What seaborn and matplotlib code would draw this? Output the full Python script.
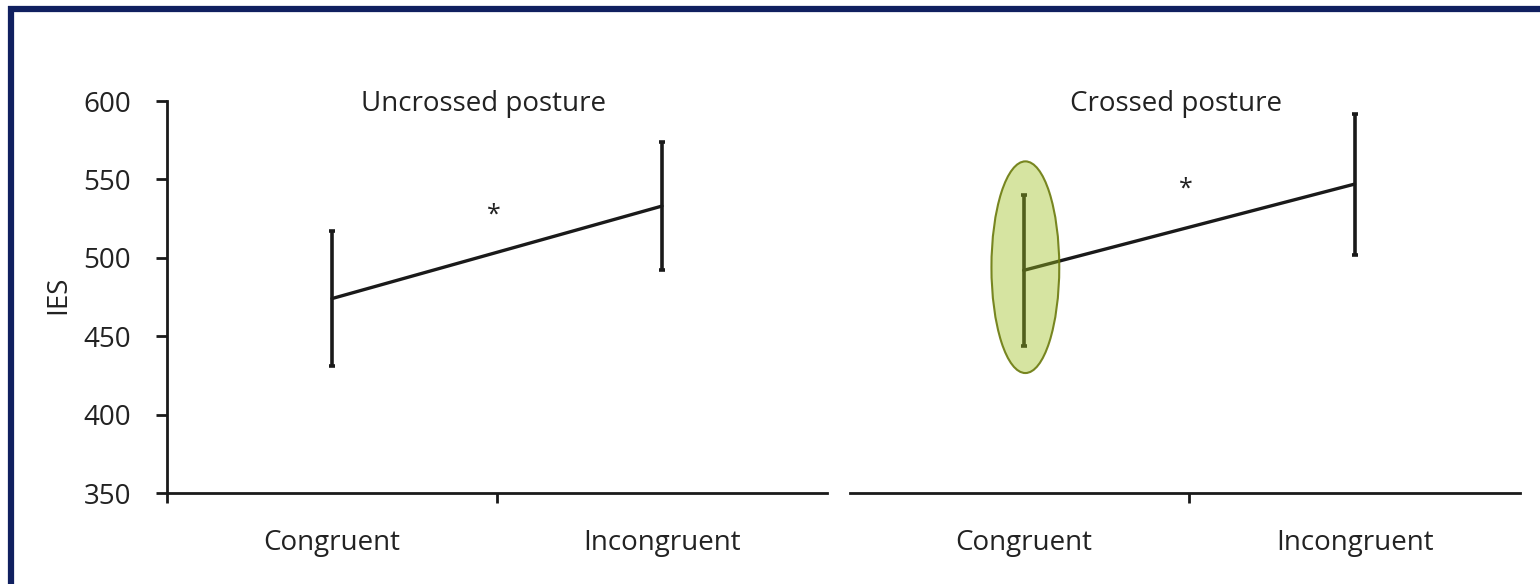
import numpy as np
import pandas as pd
import matplotlib
matplotlib.use("Agg")
import matplotlib.pyplot as plt
from matplotlib.patches import Ellipse
from matplotlib.lines import Line2D
import seaborn as sns

conditions = ["Congruent", "Incongruent"]
panel_titles = ["Uncrossed posture", "Crossed posture"]
uncrossed_mean = [474, 533]
uncrossed_err = [43, 41]
crossed_mean = [492, 547]
crossed_err = [48, 45]
y_ticks = [350, 400, 450, 500, 550, 600]

sns.set_theme(style="white")
plt.rcParams["font.family"] = ["Open Sans", "DejaVu Sans"]

INK = "#1a1a1a"
FS = 20

fig = plt.figure(figsize=(15.4, 5.84), dpi=100)
ax_l = fig.add_axes([167 / 1540, 91 / 584, 660 / 1540, 392 / 584])
ax_r = fig.add_axes([850 / 1540, 91 / 584, 670 / 1540, 392 / 584])

panels = [(ax_l, uncrossed_mean, uncrossed_err, panel_titles[0], (-0.5, 1.5)),
          (ax_r, crossed_mean, crossed_err, panel_titles[1], (-0.525, 1.5))]

for ax, means, errs, title, xlim in panels:
    df = pd.DataFrame({"condition": conditions, "IES": means})
    sns.pointplot(data=df, x="condition", y="IES", color=INK, markers="",
                  linewidth=2.4, errorbar=None, ax=ax)
    ax.errorbar([0, 1], means, yerr=errs, fmt="none", ecolor=INK,
                elinewidth=2.6, capsize=2.5, capthick=2.6, zorder=3)
    ax.set_xlim(*xlim)
    ax.set_ylim(350, 600)
    ax.set_xlabel("")
    ax.set_ylabel("")
    ax.set_xticks([0, 1])
    ax.set_xticklabels(conditions, fontsize=FS, color="#222222")
    ax.tick_params(axis="x", which="major", length=0, pad=26)
    ax.text(0.46, 598, title, ha="center", va="center", fontsize=FS,
            color="#222222")
    sns.despine(ax=ax)
    ax.spines["bottom"].set_linewidth(2)
    ax.spines["bottom"].set_color(INK)
    ax.spines["left"].set_linewidth(2)
    ax.spines["left"].set_color(INK)

# uncrossed panel keeps the y axis
ax_l.set_yticks(y_ticks)
ax_l.set_yticklabels([str(t) for t in y_ticks], fontsize=FS, color="#222222")
ax_l.tick_params(axis="y", length=8, width=2, color=INK, pad=18, left=True)
ax_l.set_xticks([-0.5, 0.5], minor=True)
ax_l.tick_params(axis="x", which="minor", length=7, width=2, color=INK,
                 bottom=True)
ax_l.text(0.49, 527, "*", ha="center", va="center", fontsize=18,
          color="#222222")

# crossed panel: no y axis
ax_r.spines["left"].set_visible(False)
ax_r.set_yticks([])
ax_r.set_xticks([0.5], minor=True)
ax_r.tick_params(axis="x", which="minor", length=7, width=2, color=INK,
                 bottom=True)
ax_r.text(0.49, 544, "*", ha="center", va="center", fontsize=18,
          color="#222222")
ax_r.add_patch(Ellipse((0.005, 494), width=0.205, height=135,
                       facecolor=(0.62, 0.75, 0.12, 0.42),
                       edgecolor=(0.42, 0.48, 0.05, 0.9), linewidth=1.5,
                       zorder=5))

fig.text(58 / 1540, 1 - 295 / 584, "IES", rotation=90, ha="center",
         va="center", fontsize=FS, color="#222222")

# navy frame (top and left edges)
navy = "#102060"
fig.add_artist(Line2D([8 / 1540, 1.0], [1 - 8.5 / 584, 1 - 8.5 / 584],
                      transform=fig.transFigure, color=navy, linewidth=4.5,
                      solid_capstyle="butt"))
fig.add_artist(Line2D([11 / 1540, 11 / 1540], [0.0, 1 - 6 / 584],
                      transform=fig.transFigure, color=navy, linewidth=4.5,
                      solid_capstyle="butt"))

fig.savefig("out.png", dpi=100, facecolor="white")
